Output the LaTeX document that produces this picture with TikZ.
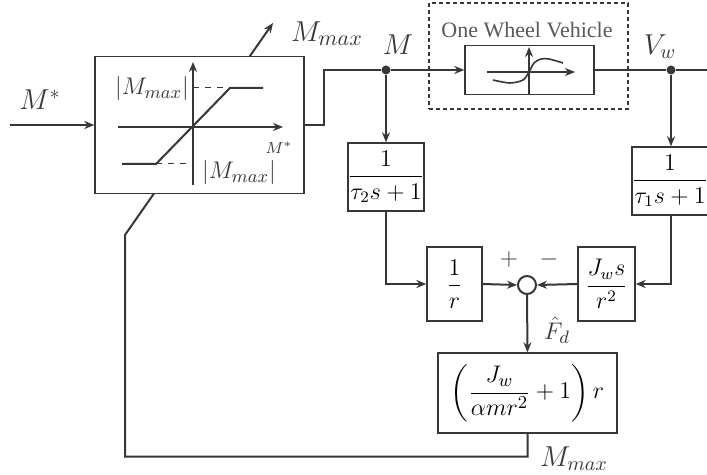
\documentclass[tikz,border=0pt]{standalone}
\usepackage{amsmath}
\usepackage{fontspec}
\setmainfont{Liberation Serif}
\usetikzlibrary{arrows.meta,positioning,backgrounds}
\definecolor{lineGray}{RGB}{55,55,55}
\tikzset{
  blk/.style={draw=lineGray, line width=0.7pt, fill=white, inner sep=0pt, font=\fontsize{12}{14}\selectfont},
  sig/.style={draw=lineGray, line width=1pt},
  lbl/.style={font=\fontsize{13}{15}\selectfont, inner sep=0pt, text=lineGray},
  dot/.style={circle, fill=lineGray, inner sep=0pt, minimum size=4.5pt},
}

\begin{document}
\begin{tikzpicture}[x=0.5pt, y=-0.5pt, >={Stealth[length=5pt, width=4pt]}]
    \useasboundingbox (0,0) rectangle (707,475);
    % blocks
    \node[blk, minimum width=104.5pt, minimum height=68.5pt] (sat) at (199.5,125) {};
    \node[draw=lineGray, line width=0.8pt, dash pattern=on 2pt off 1.5pt,
          minimum width=99.5pt, minimum height=53pt] (veh) at (528.5,56) {};
    \node[lbl, font=\fontsize{11}{13}\selectfont, text=black!65] (vehtxt) at (527,30) {One Wheel Vehicle};
    \node[blk, minimum width=64.5pt, minimum height=24.5pt] (plant) at (529.5,70) {};
    \node[blk, minimum width=37pt, minimum height=34pt] (lpf2) at (386,177) {$\dfrac{1}{\tau_2 s+1}$};
    \node[blk, minimum width=32.5pt, minimum height=34pt] (lpf1) at (670,181) {$\dfrac{1}{\tau_1 s+1}$};
    \node[blk, minimum width=27.5pt, minimum height=37pt] (invr) at (454.5,284) {$\dfrac{1}{r}$};
    \node[blk, minimum width=28.5pt, minimum height=37pt] (inert) at (606.5,284) {$\dfrac{J_w s}{r^2}$};
    \node[circle, draw=lineGray, line width=1pt, fill=white, minimum size=9pt, inner sep=0pt] (sum) at (527,285) {};
    \node[blk, minimum width=89.5pt, minimum height=40pt, font=\fontsize{13}{15}\selectfont] (gain) at (527.5,393)
      {$\left(\dfrac{J_w}{\alpha m r^2}+1\right)r$};
    % branch points
    \node[dot] (mdot) at (386,70) {};
    \node[dot] (vdot) at (671,70) {};
    \coordinate (inbeg) at (10,125);
    \coordinate (outend) at (707,70);
    \coordinate (fbk) at (125,235);
    \coordinate (mtip) at (273,23);
    % saturation curve
    \draw[sig, ->] (193,185) -- (193,62);
    \draw[sig, ->] (118,127) -- (283,127);
    \draw[sig] (122,164) -- (156,164) -- (230,88) -- (263,88);
    \draw[lineGray, line width=0.5pt, dashed] (193,88) -- (230,88);
    \draw[lineGray, line width=0.5pt, dashed] (156,164) -- (193,164);
    \node[lbl, font=\fontsize{12.5}{14}\selectfont] (mtop) at (152,89) {$|M_{max}|$};
    \node[lbl, font=\fontsize{12.5}{14}\selectfont] (mbot) at (239,173) {$|M_{max}|$};
    \node[lbl, font=\fontsize{8}{9}\selectfont] (mstar) at (279,148) {$M^*$};
    % tyre curve
    \draw[sig, line width=0.8pt, ->] (529,94) -- (529,47);
    \draw[sig, line width=0.8pt, ->] (487,72) -- (575,72);
    \draw[sig, line width=0.8pt] plot[smooth] coordinates
      {(493,80) (510,83) (523,80) (529,72) (534,63) (541,59) (549,59) (563,63)};
    % signals
    \draw[sig, ->] (inbeg) -- (sat.west);
    \draw[sig] (sat.east) -- ++(19,0) |- (mdot);
    \draw[sig, ->] (mdot) -- (plant.west);
    \draw[sig] (plant.east) -- (vdot) -- (outend);
    \draw[sig, ->] (mdot) -- (lpf2.north);
    \draw[sig, ->] (vdot) -- (vdot |- lpf1.north);
    \draw[sig, ->] (lpf2.south) |- (invr.west);
    \draw[sig, ->] (invr.east) -- (sum.west);
    \draw[sig, ->] (vdot |- lpf1.south) |- (inert.east);
    \draw[sig, ->] (inert.west) -- (sum.east);
    \draw[sig, ->] (sum.south) -- (gain.north);
    \begin{pgfonlayer}{background}
      \draw[sig, ->] (gain.south) -- ++(0,23) -| (fbk) -- (mtip);
    \end{pgfonlayer}
    % labels
    \node[lbl, font=\fontsize{14}{16}\selectfont] (lmin) at (40,100) {$M^*$};
    \node[lbl, font=\fontsize{15}{17}\selectfont] (lmax) at (327,34) {$M_{max}$};
    \node[lbl, font=\fontsize{15}{17}\selectfont] (lm) at (398,45) {$M$};
    \node[lbl, font=\fontsize{14}{16}\selectfont] (lvw) at (660,47) {$V_w$};
    \node[lbl] (lplus) at (509,260) {$+$};
    \node[lbl] (lminus) at (549,260) {$-$};
    \node[lbl, font=\fontsize{13}{15}\selectfont] (lfd) at (557,330) {$\hat{F}_d$};
    \node[lbl, font=\fontsize{14.5}{16}\selectfont] (lmax2) at (574,459) {$M_{max}$};
\end{tikzpicture}
\end{document}
